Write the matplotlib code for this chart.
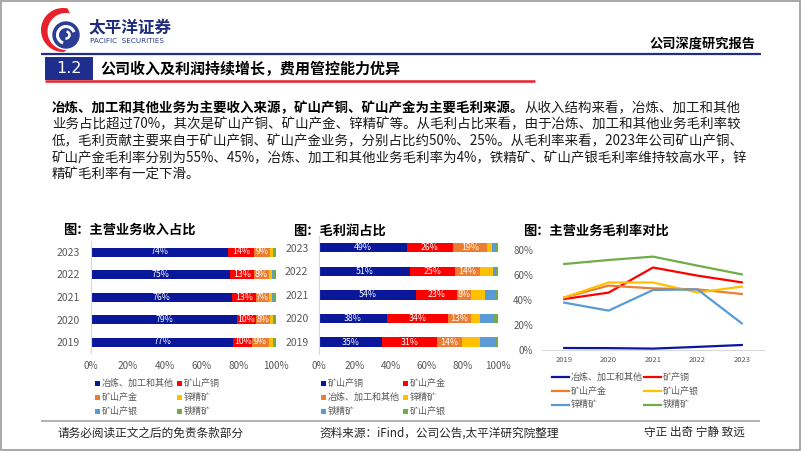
import matplotlib
matplotlib.use('Agg')
import matplotlib.pyplot as plt
from matplotlib.patches import Rectangle, Circle, Arc, Polygon
from matplotlib.lines import Line2D
import numpy as np

plt.rcParams['font.family'] = ['Noto Sans CJK SC', 'DejaVu Sans']

# ---------------- data ----------------
years = ['2019', '2020', '2021', '2022', '2023']

# 主营业务收入占比 (%)
rev_names = ['冶炼、加工和其他', '矿山产铜', '矿山产金', '锌精矿', '矿山产银', '铁精矿']
rev_smelt = [77, 79, 76, 75, 74]
rev_copper = [10, 10, 13, 13, 14]
rev_gold = [9, 8, 7, 8, 9]
rev_zinc = [2.5, 1.5, 2, 2, 1.5]
rev_silver = [0.5, 0.5, 0.5, 0.5, 0.3]
rev_iron = [1.0, 1.0, 1.5, 1.5, 1.2]

# 毛利润占比 (%)
gp_names = ['矿山产铜', '矿山产金', '冶炼、加工和其他', '锌精矿', '铁精矿', '矿山产银']
gp_copper = [35, 38, 54, 51, 49]
gp_gold = [31, 34, 23, 25, 26]
gp_smelt = [14, 13, 8, 14, 19]
gp_zinc = [10, 5, 8, 7, 2.5]
gp_iron = [8.5, 7, 6, 2, 2.5]
gp_silver = [1.5, 3, 1, 1, 1]

# 主营业务毛利率 (%)
gm_names = ['冶炼、加工和其他', '矿产铜', '矿山产金', '矿山产银', '锌精矿', '铁精矿']
gm_smelt = [1.6, 1.5, 1.1, 2.5, 4.0]
gm_copper = [40.8, 45.9, 66.0, 59.5, 54.1]
gm_gold = [42.0, 51.5, 49.3, 48.5, 44.8]
gm_silver = [42.0, 54.0, 54.0, 46.0, 50.7]
gm_zinc = [37.9, 31.5, 48.0, 48.5, 21.3]
gm_iron = [68.8, 72.0, 74.7, 67.5, 60.5]

para_lines = [
    '业务占比超过70%，其次是矿山产铜、矿山产金、锌精矿等。从毛利占比来看，由于冶炼、加工和其他业务毛利率较',
    '低，毛利贡献主要来自于矿山产铜、矿山产金业务，分别占比约50%、25%。从毛利率来看，2023年公司矿山产铜、',
    '矿山产金毛利率分别为55%、45%，冶炼、加工和其他业务毛利率为4%，铁精矿、矿山产银毛利率维持较高水平，锌',
    '精矿毛利率有一定下滑。',
]
para_bold = '冶炼、加工和其他业务为主要收入来源，矿山产铜、矿山产金为主要毛利来源。'
para_first_rest = '从收入结构来看，冶炼、加工和其他'

# ---------------- styles ----------------
NAVY = '#0B179B'
RED = '#FF0000'
ORANGE = '#ED7D31'
YELLOW = '#FFC000'
LBLUE = '#5B9BD5'
GREEN = '#70AD47'
GRAY_TXT = '#595959'
HEAD_BLUE = '#1F2D8C'

W, H = 802, 451
fig = plt.figure(figsize=(W / 100, H / 100), dpi=100)


def fx(x):
    return x / W


def fy(y):
    return 1 - y / H


def T(x, y, s, **kw):
    kw.setdefault('va', 'center')
    return fig.text(fx(x), fy(y), s, **kw)


def axpx(l, t, r, b):
    return fig.add_axes([fx(l), fy(b), (r - l) / W, (b - t) / H])


def hline(x0, x1, y, color, lw):
    fig.add_artist(Line2D([fx(x0), fx(x1)], [fy(y), fy(y)], color=color, lw=lw,
                          solid_capstyle='butt'))


# page frame
fig.add_artist(Rectangle((fx(1), fy(450)), 799 / W, 449 / H, fill=False,
                         edgecolor='#9A9A9A', lw=1.2))

# ---------------- logo ----------------
lax = axpx(30, 2, 90, 62)
lax.set_xlim(30, 90)
lax.set_ylim(62, 2)
lax.axis('off')
th_out = np.radians(np.linspace(88, 282, 60))
th_in = th_out[::-1]
outer = np.column_stack([63 + 22 * np.cos(th_out), 30 + 22 * np.sin(th_out)])
inner = np.column_stack([66 + 18.5 * np.cos(th_in), 31.5 + 18.5 * np.sin(th_in)])
lax.add_patch(Polygon(np.vstack([outer, inner]), closed=True, color='#E8202A', lw=0))
lax.add_patch(Circle((66, 35), 13, color='#2A3C96'))
lax.add_patch(Arc((66, 35), 17, 17, theta1=110, theta2=340, color='white', lw=2.2))
lax.add_patch(Arc((66, 35), 7, 7, theta1=280, theta2=460, color='white', lw=1.8))

T(89, 27.5, '太平洋证券', fontsize=12, fontweight='bold', color='#1F2D7A')
T(90, 41, 'PACIFIC  SECURITIES', fontsize=5.2, color='#2B3990', family='DejaVu Sans')

T(755, 43, '公司深度研究报告', fontsize=9.5, fontweight='bold', color='black', ha='right')
hline(41, 761, 54, HEAD_BLUE, 1.6)

# section header
fig.add_artist(Rectangle((fx(45), fy(80)), 48 / W, 23 / H, color=HEAD_BLUE, lw=0))
T(69, 68.5, '1.2', fontsize=11.5, color='white', ha='center', family='DejaVu Sans')
T(100, 68.5, '公司收入及利润持续增长，费用管控能力优异', fontsize=10.8,
  fontweight='bold', color='black')
hline(45, 535, 80.5, '#E8202A', 1.8)

# ---------------- paragraph ----------------
PFS = 9.7
y0 = 108
step = 16.8
t1 = T(52, y0, para_bold, fontsize=PFS, fontweight='bold', color='black')
renderer = fig.canvas.get_renderer()
bb = t1.get_window_extent(renderer=renderer)
T(52 + bb.width, y0, para_first_rest, fontsize=PFS, color='#1A1A1A')
for i, s in enumerate(para_lines):
    T(52, y0 + step * (i + 1), s, fontsize=PFS, color='#1A1A1A')

# ---------------- chart titles ----------------
T(63, 230, '图：主营业务收入占比', fontsize=9.5, fontweight='bold')
T(293, 230.5, '图：毛利润占比', fontsize=9.5, fontweight='bold')
T(523, 230.5, '图：主营业务毛利率对比', fontsize=9.5, fontweight='bold')


# ---------------- stacked bar charts ----------------
def stacked(ax, series, colors, ylab_pad):
    yy = np.arange(len(years))
    left = np.zeros(len(years))
    for i, (vals, col) in enumerate(zip(series, colors)):
        vals = np.asarray(vals, dtype=float)
        bars = ax.barh(yy, vals, left=left, height=0.4, color=col, lw=0)
        if i < 3:
            ax.bar_label(bars, labels=[f'{v:.0f}%' for v in vals], label_type='center',
                         color='white', fontsize=6.3)
        left += vals
    ax.set_xlim(0, 100)
    ax.set_ylim(-0.5, 4.5)
    ax.set_xticks(np.arange(0, 101, 20))
    ax.set_xticklabels([f'{v}%' for v in range(0, 101, 20)])
    ax.set_yticks(yy)
    ax.set_yticklabels(years)
    ax.tick_params(axis='x', length=0, pad=5.5, labelsize=7.2, labelcolor=GRAY_TXT)
    ax.tick_params(axis='y', length=0, pad=ylab_pad, labelsize=7.5, labelcolor=GRAY_TXT)
    for sp in ['top', 'right', 'bottom']:
        ax.spines[sp].set_visible(False)
    ax.spines['left'].set_color('#D9D9D9')
    ax.spines['left'].set_linewidth(0.8)
    ax.set_facecolor('none')


ax1 = axpx(91, 240.75, 276, 353.25)
rev_colors = [NAVY, RED, ORANGE, YELLOW, LBLUE, GREEN]
stacked(ax1, [rev_smelt, rev_copper, rev_gold, rev_zinc, rev_silver, rev_iron],
        rev_colors, 8)

ax2 = axpx(319, 236, 498, 353.8)
gp_colors = [NAVY, RED, ORANGE, YELLOW, LBLUE, GREEN]
stacked(ax2, [gp_copper, gp_gold, gp_smelt, gp_zinc, gp_iron, gp_silver],
        gp_colors, 7.7)

# ---------------- line chart ----------------
ax3 = axpx(542, 250, 764, 350)
gm_series = [gm_smelt, gm_copper, gm_gold, gm_silver, gm_zinc, gm_iron]
gm_colors = [NAVY, RED, ORANGE, YELLOW, LBLUE, GREEN]
xx = np.arange(len(years))
for vals, col in zip(gm_series, gm_colors):
    ax3.plot(xx, vals, color=col, lw=1.6)
ax3.set_xlim(-0.5, 4.5)
ax3.set_ylim(0, 80)
ax3.set_yticks(np.arange(0, 81, 20))
ax3.set_yticklabels([f'{v}%' for v in range(0, 81, 20)])
ax3.set_xticks(xx)
ax3.set_xticklabels(years)
ax3.tick_params(axis='y', length=0, pad=6.5, labelsize=7, labelcolor=GRAY_TXT)
ax3.tick_params(axis='x', length=0, pad=4.3, labelsize=5.5, labelcolor=GRAY_TXT)
for sp in ['top', 'right', 'left']:
    ax3.spines[sp].set_visible(False)
ax3.spines['bottom'].set_color('#D9D9D9')
ax3.spines['bottom'].set_linewidth(0.8)
ax3.set_facecolor('none')


# ---------------- legends ----------------
def square_legend(names, colors, cols_x, rows_y):
    for k in range(len(names)):
        r, c = divmod(k, 2)
        x, y = cols_x[c], rows_y[r]
        fig.add_artist(Rectangle((fx(x - 2.5), fy(y + 2.5)), 5 / W, 5 / H,
                                 color=colors[k], lw=0))
        T(x + 4.5, y, names[k], fontsize=6.5, color=GRAY_TXT)


square_legend(rev_names, rev_colors, [97, 179], [383, 397, 411])
square_legend(gp_names, gp_colors, [323, 405], [383, 397, 411.5])

for k in range(6):
    r, c = divmod(k, 2)
    x0 = [552, 644][c]
    y = [377, 391, 404.5][r]
    fig.add_artist(Line2D([fx(x0), fx(x0 + 17)], [fy(y), fy(y)], color=gm_colors[k], lw=1.6))
    T(x0 + 18.5, y, gm_names[k], fontsize=6.5, color=GRAY_TXT)

# ---------------- footer ----------------
hline(41, 760, 421, '#A6A6A6', 1.2)
T(57, 433, '请务必阅读正文之后的免责条款部分', fontsize=8.4, color='#262626')
T(319, 433, '资料来源：iFind，公司公告,太平洋研究院整理', fontsize=8.4, color='#262626')
T(745, 432, '守正 出奇 宁静 致远', fontsize=8.4, color='#262626', ha='right')

fig.savefig('out.png', dpi=100)
